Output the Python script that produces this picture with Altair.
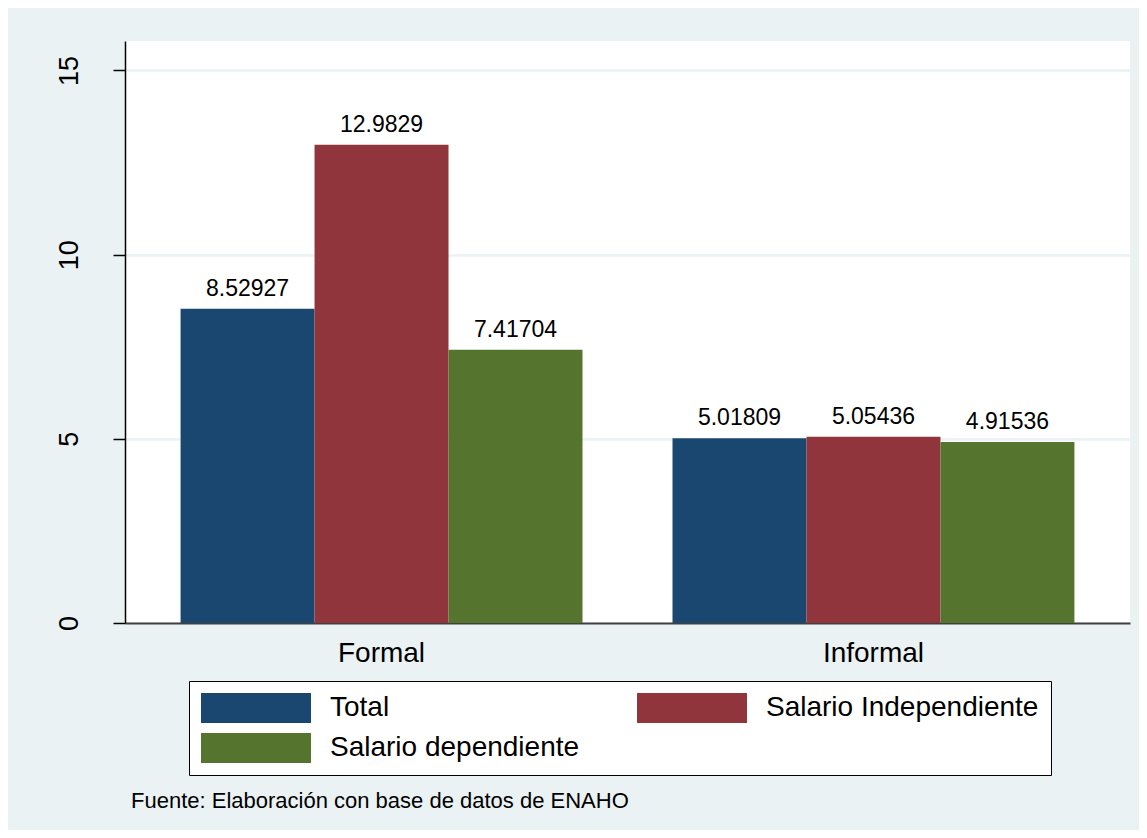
import altair as alt
import pandas as pd

groups = ["Formal", "Informal"]
series = ["Total", "Salario Independiente", "Salario dependiente"]
formal_values = [8.52927, 12.9829, 7.41704]
informal_values = [5.01809, 5.05436, 4.91536]
colors = ["#1a476f", "#90353b", "#55752f"]
y_ticks = [0, 5, 10, 15]
note = "Fuente: Elaboración con base de datos de ENAHO"

rows = []
for g, vals in zip(groups, [formal_values, informal_values]):
    for s, v in zip(series, vals):
        rows.append({"grupo": g, "serie": s, "valor": v})
df = pd.DataFrame(rows)

FONT = "Liberation Sans"

base = alt.Chart(df).encode(
    x=alt.X(
        "grupo:N",
        sort=groups,
        title=None,
        scale=alt.Scale(paddingInner=0.183, paddingOuter=0.113),
        axis=alt.Axis(
            labelAngle=0,
            ticks=False,
            tickSize=0,
            labelPadding=16,
            labelFontSize=28,
            labelFont=FONT,
            labelColor="#000000",
            domainColor="#404040",
            domainWidth=2,
            grid=False,
        ),
    ),
    xOffset=alt.XOffset("serie:N", sort=series, scale=alt.Scale(paddingInner=0, paddingOuter=0)),
    y=alt.Y(
        "valor:Q",
        title=None,
        scale=alt.Scale(domain=[0, 15.8], nice=False, zero=True),
        axis=alt.Axis(
            values=y_ticks,
            labelAngle=270,
            labelAlign="center",
            labelBaseline="alphabetic",
            labelPadding=36,
            tickSize=12,
            tickColor="#000000",
            tickWidth=1.5,
            labelFontSize=27,
            labelFont=FONT,
            labelColor="#000000",
            domainColor="#000000",
            domainWidth=1.5,
            grid=True,
            gridColor="#eaf2f3",
            gridWidth=2.5,
        ),
    ),
)

bars = base.mark_bar(strokeWidth=0).encode(
    color=alt.Color(
        "serie:N",
        sort=series,
        scale=alt.Scale(domain=series, range=colors),
        legend=alt.Legend(
            title=None,
            orient="none",
            legendX=64,
            legendY=640,
            columns=2,
            direction="horizontal",
            symbolType="M-1,-1L6.333,-1L6.333,1L-1,1Z",
            symbolSize=900,
            symbolStrokeWidth=0,
            symbolOpacity=1,
            labelFontSize=28,
            labelFont=FONT,
            labelColor="#000000",
            labelOffset=99,
            labelLimit=500,
            rowPadding=10,
            columnPadding=57,
            padding=12,
            strokeColor="#000000",
            fillColor="#ffffff",
            cornerRadius=0,
        ),
    )
)

labels = base.mark_text(
    baseline="alphabetic", dy=-13, fontSize=23, font=FONT, color="#000000"
).encode(text=alt.Text("valor:Q", format=".6g"))

chart = (
    alt.layer(bars, labels)
    .properties(
        width=1005,
        height=582,
        autosize=alt.AutoSizeParams(type="none"),
        padding={"left": 117, "top": 33, "right": 9, "bottom": 207},
        background="#eaf2f3",
        title=alt.TitleParams(
            text=note,
            orient="bottom",
            anchor="start",
            frame="group",
            fontSize=22,
            font=FONT,
            fontWeight="normal",
            color="#000000",
            dx=6,
            offset=15,
        ),
    )
    .configure_view(stroke=None, fill="#ffffff")
)

chart.save("out.html", embed_options={"renderer": "svg", "actions": False})
